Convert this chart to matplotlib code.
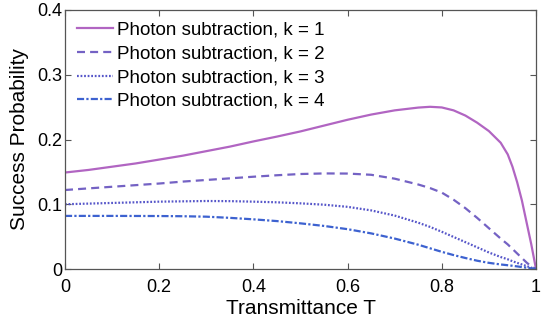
import matplotlib
matplotlib.use("Agg")
import matplotlib.pyplot as plt

# ==============================
# DATA
# ==============================
T = [0, 0.05, 0.1, 0.15, 0.2, 0.25, 0.3, 0.35, 0.4, 0.45, 0.5, 0.55, 0.6,
     0.65, 0.7, 0.75, 0.775, 0.8, 0.825, 0.85, 0.875, 0.9, 0.925, 0.94,
     0.95, 0.96, 0.97, 0.98, 0.99, 1.0]

k1 = [0.149, 0.153, 0.158, 0.163, 0.169, 0.175, 0.182, 0.189, 0.197, 0.2045,
      0.2125, 0.2215, 0.2305, 0.2385, 0.2450, 0.2493, 0.2505, 0.2495, 0.245,
      0.237, 0.226, 0.213, 0.195, 0.177, 0.158, 0.134, 0.106, 0.072, 0.038,
      0.0]
k2 = [0.122, 0.1245, 0.127, 0.1295, 0.132, 0.135, 0.1375, 0.140, 0.1425,
      0.1448, 0.1467, 0.1476, 0.1474, 0.1455, 0.1395, 0.1305, 0.125, 0.118,
      0.107, 0.094, 0.079, 0.063, 0.047, 0.038, 0.031, 0.024, 0.017, 0.010,
      0.004, 0.0]
k3 = [0.100, 0.101, 0.102, 0.103, 0.104, 0.1045, 0.105, 0.1048, 0.104, 0.103,
      0.1014, 0.0993, 0.0960, 0.0905, 0.0825, 0.0715, 0.065, 0.0575, 0.0495,
      0.0415, 0.0335, 0.0255, 0.0185, 0.015, 0.012, 0.0095, 0.007, 0.0045,
      0.002, 0.0]
k4 = [0.082, 0.082, 0.082, 0.0819, 0.0818, 0.0815, 0.0808, 0.079, 0.0767,
      0.074, 0.0705, 0.0665, 0.0615, 0.055, 0.047, 0.0375, 0.032, 0.0265,
      0.0215, 0.017, 0.0128, 0.0095, 0.007, 0.0058, 0.005, 0.004, 0.003,
      0.002, 0.001, 0.0]

labels = ["Photon subtraction, k = 1", "Photon subtraction, k = 2",
          "Photon subtraction, k = 3", "Photon subtraction, k = 4"]
x_ticks = [0, 0.2, 0.4, 0.6, 0.8, 1]
x_tick_labels = ["0", "0.2", "0.4", "0.6", "0.8", "1"]
y_ticks = [0, 0.1, 0.2, 0.3, 0.4]
y_tick_labels = ["0", "0.1", "0.2", "0.3", "0.4"]

# ==============================
# STYLE
# ==============================
plt.rcParams["font.family"] = ["Liberation Sans", "DejaVu Sans"]

colors = ["#b165c2", "#7462c4", "#5656c9", "#3d62d0"]
styles = ["-", (0, (3.6, 2.3)), (0, (0.8, 0.8)), (0, (3.2, 1.0, 1.0, 1.0))]

# ==============================
# PLOT
# ==============================
fig = plt.figure(figsize=(5.5, 3.32), dpi=100)
ax = fig.add_axes([65 / 550, 1 - 269 / 332, 471 / 550, 259 / 332])

for y, c, ls, lab in zip([k1, k2, k3, k4], colors, styles, labels):
    ax.plot(T, y, color=c, linestyle=ls, linewidth=1.6, label=lab)

ax.set_xlim(0, 1)
ax.set_ylim(0, 0.4)
ax.set_xticks(x_ticks)
ax.set_xticklabels(x_tick_labels)
ax.set_yticks(y_ticks)
ax.set_yticklabels(y_tick_labels)

ax.tick_params(direction="in", length=4, width=0.8, color="#555555",
               top=True, right=True, labelsize=13)
ax.tick_params(axis="x", pad=7.5)
ax.tick_params(axis="y", pad=2)
for s in ax.spines.values():
    s.set_color("#555555")
    s.set_linewidth(0.9)

ax.set_xlabel("Transmittance T", fontsize=15, labelpad=2)
ax.set_ylabel("Success Probability", fontsize=15, labelpad=6)

leg = ax.legend(loc="upper left", bbox_to_anchor=(12 / 471, 1 - 11.8 / 259),
                fontsize=13.5, frameon=False, handlelength=1.92,
                handletextpad=0.2, labelspacing=0.345,
                borderaxespad=0, borderpad=0)

fig.savefig("out.png", dpi=100)
